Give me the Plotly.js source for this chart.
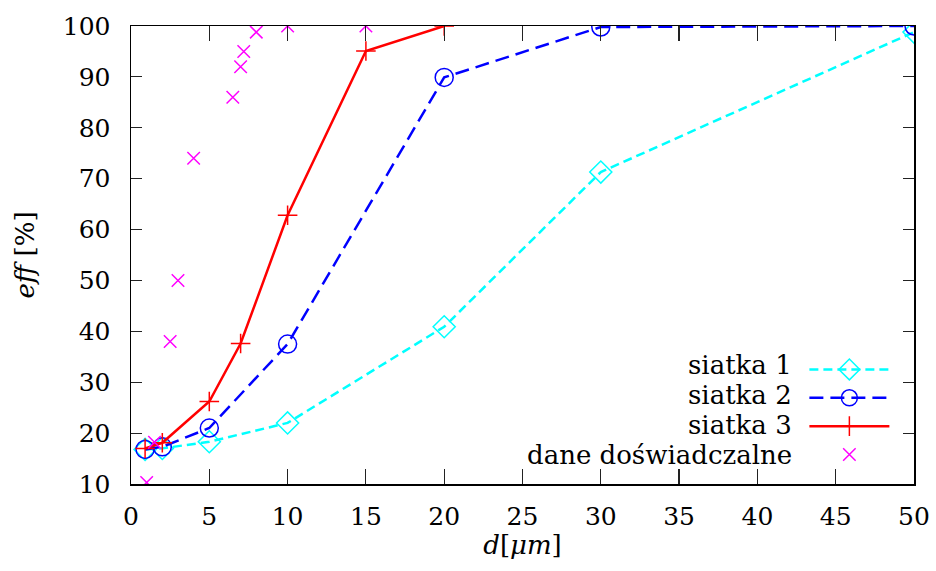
<!DOCTYPE html>
<html>
<head>
<meta charset="utf-8">
<script src="https://cdn.plot.ly/plotly-3.0.1.min.js"></script>
<style>html,body{margin:0;padding:0;background:#fff;}#chart{width:936px;height:571px;}</style>
</head>
<body>
<div id="chart"></div>
<script>
// ---- data ----
const labels = ["siatka 1", "siatka 2", "siatka 3", "dane doświadczalne"];
const x_s1 = [0.9, 2, 5, 10, 20, 30, 50];
const y_s1 = [16.8, 17.0, 18.3, 22.0, 40.9, 71.3, 98.8];
const x_s2 = [0.9, 2, 5, 10, 20, 30, 50];
const y_s2 = [16.8, 17.3, 21.0, 37.5, 89.9, 99.8, 100];
const x_s3 = [0.9, 2, 5, 7, 10, 15, 20];
const y_s3 = [17.0, 18.1, 26.2, 37.6, 62.8, 95.1, 100];
const x_exp = [1.0, 1.5, 2.5, 3, 4, 6.5, 7, 7.2, 8, 10, 15];
const y_exp = [10.3, 18.2, 38.0, 50.0, 74.0, 86.0, 92.0, 95.0, 98.8, 100, 100];
const xTicks = [0, 5, 10, 15, 20, 25, 30, 35, 40, 45, 50];
const yTicks = [10, 20, 30, 40, 50, 60, 70, 80, 90, 100];

const FONT = "DejaVu Serif";
const traces = [
  {x: x_s1, y: y_s1, mode: "lines+markers", name: " ",
   line: {color: "#00ffff", width: 2.5, dash: "9px,5px"},
   marker: {symbol: "diamond-open", size: 17, color: "#00ffff", line: {width: 1.5, color: "#00ffff"}}},
  {x: x_s2, y: y_s2, mode: "lines+markers", name: "  ",
   line: {color: "#0000ff", width: 2.5, dash: "14px,7px"},
   marker: {symbol: "circle-open", size: 18, color: "#0000ff", line: {width: 1.5, color: "#0000ff"}}},
  {x: x_s3, y: y_s3, mode: "lines+markers", name: "   ",
   line: {color: "#ff0000", width: 2.5},
   marker: {symbol: "cross-thin-open", size: 14, color: "#ff0000", line: {width: 1.5, color: "#ff0000"}}},
  {x: x_exp, y: y_exp, mode: "markers", name: "    ",
   marker: {symbol: "x-thin-open", size: 12.5, color: "#ff00ff", line: {width: 1.5, color: "#ff00ff"}}}
];

const legendRowsY = [0.2603, 0.195, 0.1296, 0.0643];
const annotations = labels.map((t, i) => ({
  text: t, xref: "paper", yref: "paper", x: 0.8467, y: legendRowsY[i],
  xanchor: "right", yanchor: "middle", showarrow: false,
  font: {family: FONT, size: 26, color: "#000"}
}));

const axisCommon = {
  showline: true, linecolor: "#000", linewidth: 1.5, mirror: "ticks",
  ticks: "inside", tickcolor: "#222", tickwidth: 1.2,
  showgrid: false, zeroline: false,
  tickfont: {family: FONT, size: 25, color: "#000"}
};

const layout = {
  width: 936, height: 571,
  margin: {l: 131, r: 22, t: 25.5, b: 86.5, autoexpand: false},
  paper_bgcolor: "#fff", plot_bgcolor: "#fff",
  showlegend: true,
  legend: {x: 0.86, y: 0.292, xanchor: "left", yanchor: "top",
           bgcolor: "rgba(0,0,0,0)", borderwidth: 0, itemwidth: 80,
           font: {family: FONT, size: 19.5, color: "#000"}},
  xaxis: Object.assign({}, axisCommon, {
    range: [0, 50], tickmode: "array", tickvals: xTicks, ticklen: 15,
    ticklabelstandoff: 9,
    title: {text: "<i>d</i>[<i>μm</i>]", font: {family: FONT, size: 26, color: "#000"}, standoff: 6}
  }),
  yaxis: Object.assign({}, axisCommon, {
    range: [10, 100], tickmode: "array", tickvals: yTicks, ticklen: 11,
    ticklabelstandoff: 14,
    title: {text: "<i>eff</i> [%]", font: {family: FONT, size: 26, color: "#000"}, standoff: 20}
  }),
  annotations: annotations
};

Plotly.newPlot("chart", traces, layout, {displayModeBar: false, staticPlot: true});
</script>
</body>
</html>
